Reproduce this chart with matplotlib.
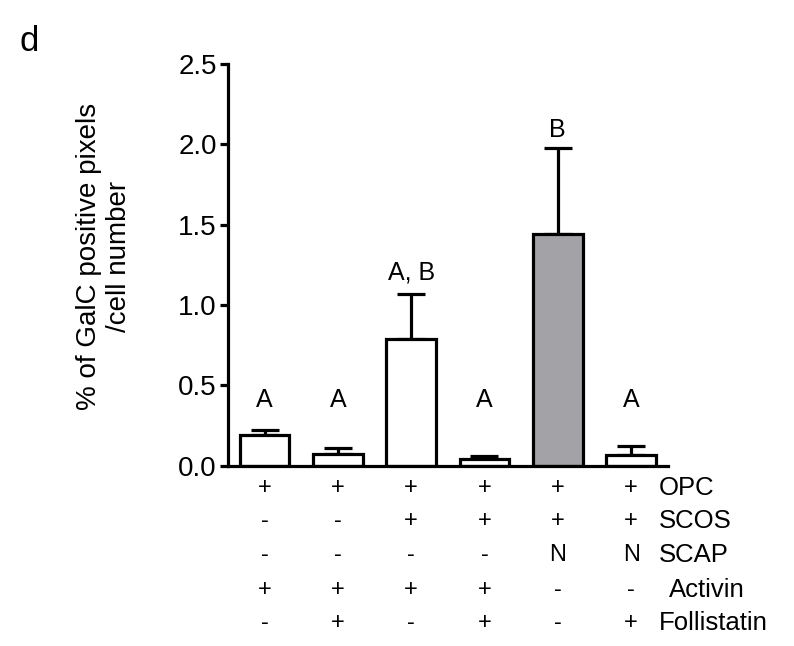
import numpy as np
import matplotlib.pyplot as plt

plt.rcParams['font.family'] = ['Liberation Sans', 'DejaVu Sans']

# bar values and upper SEM
means = [0.19, 0.075, 0.79, 0.045, 1.44, 0.07]
errs = [0.03, 0.035, 0.28, 0.015, 0.54, 0.055]
colors = ['white', 'white', 'white', 'white', '#a3a3a7', 'white']
letters = ['A', 'A', 'A, B', 'A', 'B', 'A']
letter_y = [0.41, 0.41, 1.20, 0.41, 2.09, 0.41]

# treatment table under the bars
row_names = ['OPC', 'SCOS', 'SCAP', 'Activin', 'Follistatin']
rows = [
    ['+', '+', '+', '+', '+', '+'],
    ['-', '-', '+', '+', '+', '+'],
    ['-', '-', '-', '-', 'N', 'N'],
    ['+', '+', '+', '+', '-', '-'],
    ['-', '+', '-', '+', '-', '+'],
]

fig = plt.figure(figsize=(7.94, 6.46), dpi=100)
ax = fig.add_axes([0.287, 0.279, 0.554, 0.622])

x = np.arange(len(means))
ax.bar(x, means, width=0.68, color=colors, edgecolor='black', linewidth=2.3, zorder=2)
ax.errorbar(x, means, yerr=[np.zeros(len(errs)), errs], fmt='none', ecolor='black',
            elinewidth=2.3, capsize=10, capthick=2.3, zorder=1)

for xi, lab, ly in zip(x, letters, letter_y):
    ax.text(xi, ly, lab, ha='center', va='center', fontsize=18)

ax.set_xlim(-0.5, 5.5)
ax.set_ylim(0, 2.5)
ax.set_yticks([0.0, 0.5, 1.0, 1.5, 2.0, 2.5])
ax.set_yticklabels(['0.0', '0.5', '1.0', '1.5', '2.0', '2.5'])
ax.set_xticks([])
ax.spines['top'].set_visible(False)
ax.spines['right'].set_visible(False)
ax.spines['left'].set_linewidth(2.3)
ax.spines['bottom'].set_linewidth(2.3)
ax.tick_params(axis='y', labelsize=20, width=2.3, length=6, pad=2)
ax.set_ylabel('% of GalC positive pixels\n/cell number', fontsize=20)
ax.yaxis.set_label_coords(-0.218, 0.52)

# table of + / - signs
row_y = [488, 521, 555, 590, 623]
for r, (name, vals) in enumerate(zip(row_names, rows)):
    yf = 1 - row_y[r] / 646
    for xi, v in zip(x, vals):
        xd = ax.transData.transform((xi, 0))[0] / fig.bbox.width
        fig.text(xd, yf, v, ha='center', va='center', fontsize=17)
    fig.text(0.83 if name != 'Activin' else 0.843, yf, name, ha='left', va='center', fontsize=18.5)

fig.text(0.025, 0.935, 'd', fontsize=25, ha='left', va='center')

fig.savefig('out.png', dpi=100)
